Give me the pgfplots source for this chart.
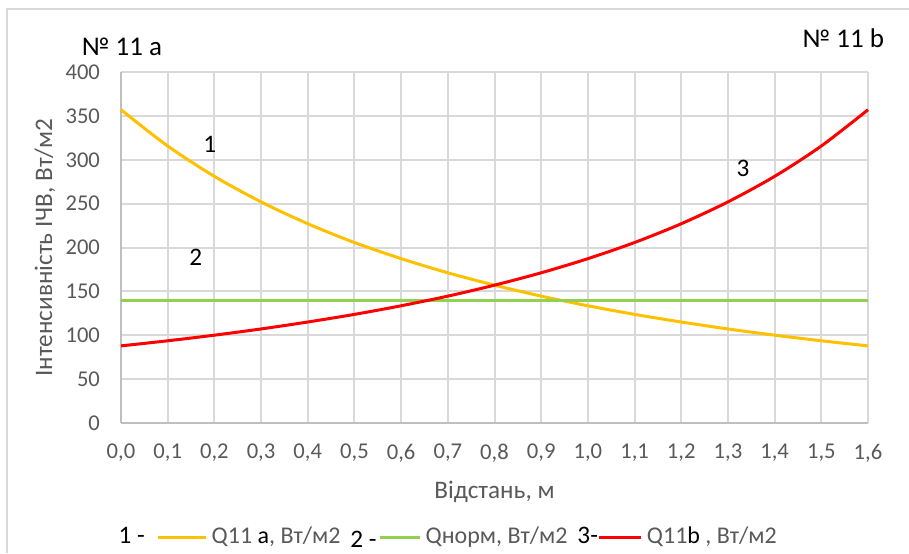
\documentclass[border=0pt]{standalone}
\usepackage{pgfplots}
\pgfplotsset{compat=1.18}
\usepackage{fontspec}
\setmainfont{Carlito}
\definecolor{qa}{HTML}{FFC000}
\definecolor{qn}{HTML}{92D050}
\definecolor{qb}{HTML}{FF0000}
\definecolor{txt}{HTML}{595959}
\definecolor{grd}{HTML}{D9D9D9}
\definecolor{axl}{HTML}{BFBFBF}
\newcommand{\lbl}{\fontsize{11.3}{13}\selectfont}
\newcommand{\lblbig}{\fontsize{12.6}{14}\selectfont}
\begin{document}
\begin{tikzpicture}
% frame of the chart area (1 px = 0.5pt)
\useasboundingbox (0,0) rectangle (454.5pt,-276.5pt);
\draw[grd, line width=0.8pt] (3.5pt,-276.5pt) -- (3.5pt,-4.5pt) -- (454.5pt,-4.5pt);
\begin{axis}[
  at={(60.5pt,-211.5pt)}, anchor=south west,
  scale only axis, width=373.5pt, height=175.5pt,
  xmin=0, xmax=1.6, ymin=0, ymax=400,
  xtick={0,0.1,...,1.61}, ytick={0,50,...,400},
  axis x line*=bottom, axis y line*=left,
  axis line style={-, axl, line width=1pt},
  major tick length=0pt,
  grid=major, major grid style={grd, line width=1pt},
  tick label style={font=\lbl, text=txt},
  xticklabel style={/pgf/number format/.cd, fixed, fixed zerofill, precision=1, use comma, assume math mode=true},
  yticklabel style={/pgf/number format/assume math mode=true},
  xticklabel shift=7pt, yticklabel shift=7pt,
  xlabel={Відстань, м},
  ylabel={Інтенсивність ІЧВ, Вт/м2},
  label style={font=\lblbig, text=txt},
  xlabel style={at={(axis description cs:0.5,-0.197)}, anchor=center},
  ylabel style={at={(axis description cs:-0.1017,0.5)}, anchor=center},
  clip=false,
  legend columns=3,
  legend style={draw=none, fill=none, font=\fontsize{12}{14}\selectfont, text=txt,
    at={(axis description cs:0.44,-0.325)}, anchor=center,
    /tikz/every even column/.append style={column sep=3pt}},
  legend cell align=left,
]
\addplot[qa, line width=1.5pt, smooth,
  legend image code/.code={\node[anchor=east, black, font=\lblbig, inner sep=0pt] at (-6pt,0pt) {1 -};
    \draw[qa, line width=1.5pt] (0pt,0pt) -- (24pt,0pt);}]
coordinates {(0,357.0)(0.1,315.7)(0.2,281.1)(0.3,252.0)(0.4,227.1)(0.5,205.7)(0.6,187.3)(0.7,171.2)(0.8,157.1)(0.9,144.6)(1.0,133.6)(1.1,123.8)(1.2,115.1)(1.3,107.2)(1.4,100.1)(1.5,93.7)(1.6,87.9)};
\addlegendentry{Q11 \textcolor{black}{a}, Вт/м2}
\addplot[qn, line width=1.5pt,
  legend image code/.code={\node[anchor=east, black, font=\lblbig, inner sep=0pt] at (-1pt,-2pt) {2 -};
    \draw[qn, line width=1.5pt] (0pt,0pt) -- (20pt,0pt);}]
coordinates {(0,140)(1.6,140)};
\addlegendentry{Qнорм, Вт/м2}
\addplot[qb, line width=1.5pt, smooth,
  legend image code/.code={\node[anchor=east, black, font=\lblbig, inner sep=0pt] at (0pt,0pt) {3-};
    \draw[qb, line width=1.5pt] (0pt,0pt) -- (21pt,0pt);}]
coordinates {(0,87.9)(0.1,93.7)(0.2,100.1)(0.3,107.2)(0.4,115.1)(0.5,123.8)(0.6,133.6)(0.7,144.6)(0.8,157.1)(0.9,171.2)(1.0,187.3)(1.1,205.7)(1.2,227.1)(1.3,252.0)(1.4,281.1)(1.5,315.7)(1.6,357.0)};
\addlegendentry{Q11\textcolor{black}{b} , Вт/м2}
\node[font=\lblbig] at (axis cs:0.19,317) {1};
\node[font=\lblbig] at (axis cs:0.16,189) {2};
\node[font=\lblbig] at (axis cs:1.332,290) {3};
\node[font=\fontsize{13.5}{15}\selectfont] at (axis cs:0.002,428.5) {№ 11 a};
\node[font=\fontsize{13.5}{15}\selectfont] at (axis cs:1.547,438.7) {№ 11 b};
\end{axis}
\end{tikzpicture}
\end{document}
